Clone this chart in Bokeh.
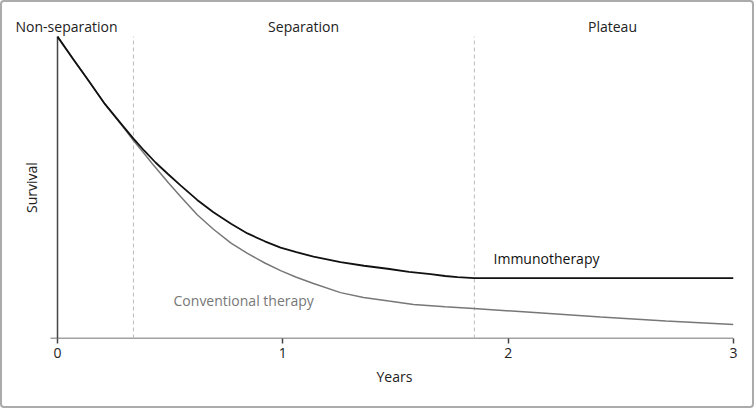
import math
from bokeh.plotting import figure
from bokeh.models import (Range1d, FixedTicker, ColumnDataSource, Label, Title,
                          InlineStyleSheet)
from bokeh.core.properties import value
from bokeh.embed import file_html
from bokeh.resources import INLINE

# ---- data ----
immuno_x = [0, 0.07, 0.138, 0.21, 0.289, 0.337, 0.385, 0.435, 0.49, 0.546, 0.62, 0.692,
            0.77, 0.843, 0.92, 0.99, 1.06, 1.136, 1.256, 1.36, 1.465, 1.56, 1.656,
            1.72, 1.775, 1.85, 3.0]
immuno_s = [1.0, 0.925, 0.854, 0.777, 0.705, 0.662, 0.622, 0.583, 0.545, 0.507, 0.459,
            0.418, 0.380, 0.348, 0.322, 0.301, 0.286, 0.271, 0.253, 0.241, 0.231,
            0.221, 0.213, 0.207, 0.203, 0.200, 0.200]

conv_x = [0, 0.07, 0.138, 0.21, 0.289, 0.337, 0.38, 0.42, 0.493, 0.546, 0.62, 0.692,
          0.77, 0.843, 0.92, 0.99, 1.06, 1.136, 1.256, 1.358, 1.47, 1.58, 1.72, 1.846,
          2.1, 2.41, 2.7, 3.0]
conv_s = [1.0, 0.925, 0.854, 0.777, 0.703, 0.656, 0.617, 0.58, 0.515, 0.470, 0.41,
          0.362, 0.316, 0.282, 0.250, 0.225, 0.203, 0.182, 0.152, 0.136, 0.124, 0.113,
          0.105, 0.099, 0.087, 0.071, 0.058, 0.046]

phase_bounds = [0.337, 1.85]
phase_names = ["Non-separation", "Separation", "Plateau"]
phase_label_x = [0.04, 1.092, 2.463]
phase_label_y = 1.033

x_ticks = [0, 1, 2, 3]
x_title = "Years"
x_axis_extent = [-0.031, 3.0]
y_title = "Survival"
y_axis_extent = [0, 1]
y_title_pos = (-0.115, 0.5)

series_names = ["Immunotherapy", "Conventional therapy"]
series_label_x = [1.935, 0.515]
series_label_y = [0.265, 0.126]
series_colors = ["#111111", "#777777"]

FONT = "Open Sans"
TEXT = "#222222"
AXIS = "#444444"

frame_css = InlineStyleSheet(css="""
:host { position: relative; }
:host::after {
  content: "";
  position: absolute;
  left: 0; top: 0; width: 754px; height: 408px;
  box-sizing: border-box;
  border: 2px solid #ababab;
  border-radius: 4px;
  pointer-events: none;
  z-index: 100;
}
""")

p = figure(width=756, height=409,
           x_range=Range1d(-0.253, 3.0), y_range=Range1d(0, 1.113),
           output_backend="svg", toolbar_location=None, y_axis_location=None,
           min_border_left=0, min_border_right=23,
           min_border_top=2, min_border_bottom=71,
           stylesheets=[frame_css])
p.grid.visible = False
p.outline_line_color = None
p.background_fill_color = "white"
p.border_fill_color = "white"

# x axis (ticks and labels from the axis; its line drawn from the axis extent)
xa = p.xaxis[0]
xa.ticker = FixedTicker(ticks=x_ticks)
xa.minor_tick_line_color = None
xa.major_tick_in = 0
xa.major_tick_out = 5
xa.major_tick_line_color = AXIS
xa.major_tick_line_width = 1.5
xa.axis_line_color = None
xa.major_label_standoff = 4
xa.major_label_text_font = FONT
xa.major_label_text_font_size = "14px"
xa.major_label_text_color = TEXT

# x title centred under the 0..3 span of the axis
p.add_layout(Title(text=x_title, align="left", offset=376, standoff=8,
                   text_font=FONT, text_font_size="14px", text_font_style="normal",
                   text_color=TEXT), "below")

p.segment(x0=[x_axis_extent[0]], y0=[0], x1=[x_axis_extent[1]], y1=[0],
          line_color=AXIS, line_width=1.5)

# y axis line at x = 0 and its title
p.segment(x0=[0], y0=[y_axis_extent[0]], x1=[0], y1=[y_axis_extent[1]],
          line_color=AXIS, line_width=1.5)
p.add_layout(Label(x=y_title_pos[0], y=y_title_pos[1], text=y_title, angle=math.pi / 2,
                   text_font=FONT, text_font_size="14px", text_color=TEXT,
                   text_align="center", text_baseline="middle"))

# phase boundaries
p.segment(x0=phase_bounds, y0=[0] * len(phase_bounds), x1=phase_bounds,
          y1=[1] * len(phase_bounds), line_color="#bbbbbb", line_width=1,
          line_dash="4 3")

# curves
p.line(conv_x, conv_s, line_color=series_colors[1], line_width=1.5)
p.line(immuno_x, immuno_s, line_color=series_colors[0], line_width=1.8)

# phase labels
for name, lx in zip(phase_names, phase_label_x):
    p.add_layout(Label(x=lx, y=phase_label_y, text=name,
                       text_font=FONT, text_font_size="14px", text_color=TEXT,
                       text_align="center", text_baseline="middle"))

# series labels
src = ColumnDataSource(dict(x=series_label_x, y=series_label_y, t=series_names,
                            c=series_colors))
p.text(x="x", y="y", text="t", source=src, text_color="c",
       text_font=value(FONT), text_font_size=value("14px"),
       text_align="left", text_baseline="middle")

open("out.html", "w").write(file_html(p, INLINE))
